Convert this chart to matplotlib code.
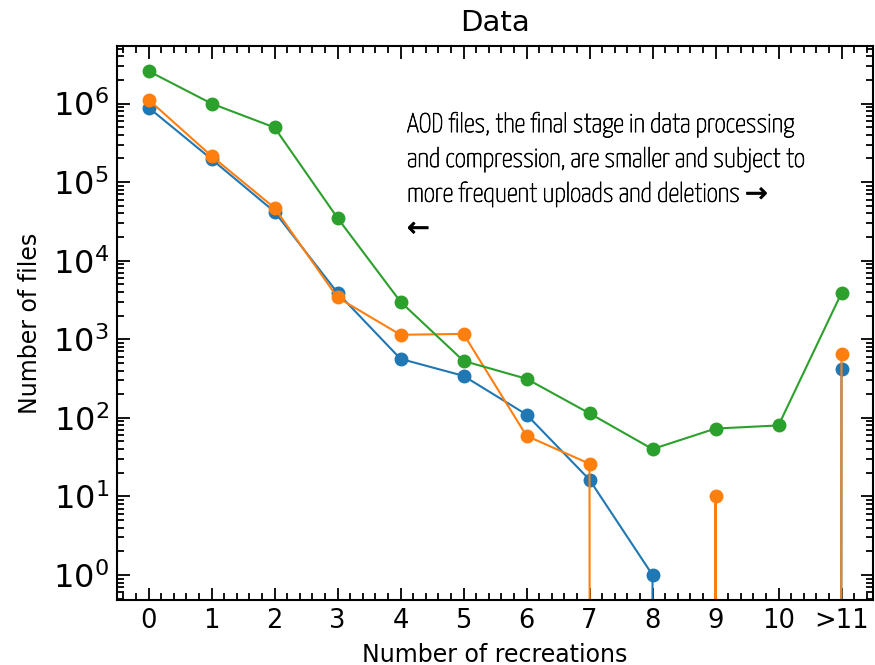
import numpy as np
import matplotlib
matplotlib.use("Agg")
import matplotlib.pyplot as plt
import matplotlib.patheffects as pe
from matplotlib.ticker import LogLocator, AutoMinorLocator, NullFormatter

x_labels = ["0", "1", "2", "3", "4", "5", "6", "7", "8", "9", "10", ">11"]
x_pos = list(range(len(x_labels)))

blue = [8.9e5, 1.96e5, 4.2e4, 3.9e3, 563, 342, 110, 16.3, 1, 0, 0, 424]
orange = [1.12e6, 2.15e5, 4.7e4, 3.4e3, 1140, 1170, 59, 26, 0, 10, 0, 650]
green = [2.59e6, 1.0e6, 4.96e5, 3.5e4, 3.0e3, 530, 314, 114, 40, 73, 80, 3870]

title = "Data"
xlabel = "Number of recreations"
ylabel = "Number of files"
note = ("AOD files, the final stage in data processing\n"
        "and compression, are smaller and subject to\n"
        "more frequent uploads and deletions \u2192\n"
        "\u2190")

fig = plt.figure(figsize=(8.75, 6.65), dpi=100)
ax = fig.add_axes([117/875, 1-600/665, (873-117)/875, (600-46)/665])

for vals, c in [(blue, "C0"), (orange, "C1"), (green, "C2")]:
    ax.plot(x_pos, vals, "-o", color=c, lw=1.5, ms=9)

ax.set_yscale("log")
ax.set_ylim(0.48, 5.4e6)
ax.set_xlim(-0.5, 11.5)
ax.set_xticks(x_pos)
ax.set_xticklabels(x_labels, fontsize=18.5)
ax.xaxis.set_minor_locator(AutoMinorLocator(5))
ax.yaxis.set_major_locator(LogLocator(base=10, numticks=20))
ax.yaxis.set_minor_locator(LogLocator(base=10, subs=np.arange(2, 10), numticks=100))
ax.yaxis.set_minor_formatter(NullFormatter())
ax.tick_params(axis="y", which="major", labelsize=23)
ax.tick_params(which="both", direction="in", top=True, right=True, width=1.3)
ax.tick_params(which="major", length=9, pad=6)
ax.tick_params(which="minor", length=5)
for s in ax.spines.values():
    s.set_linewidth(1.5)

ax.set_xlabel(xlabel, fontsize=17, labelpad=6)
ax.set_ylabel(ylabel, fontsize=17, labelpad=8)
ax.set_title(title, fontsize=21, pad=11)

fig.text(407/875, 1-112/665, note, ha="left", va="top", fontsize=19.5,
         family=["Yanone Kaffeesatz", "DejaVu Sans"], linespacing=1.47,
         color="black",
         path_effects=[pe.withStroke(linewidth=0.5, foreground="black")])

fig.savefig("out.png", dpi=100)
